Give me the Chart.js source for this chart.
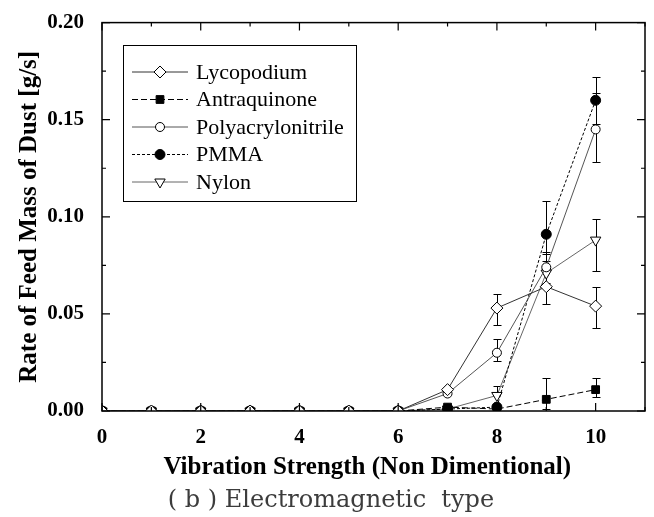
<!DOCTYPE html>
<html>
<head>
<meta charset="utf-8">
<script src="https://cdn.jsdelivr.net/npm/chart.js@4.4.1/dist/chart.umd.min.js"></script>
<style>
  html, body { margin: 0; padding: 0; background: #fff; }
  #wrap { position: relative; width: 654px; height: 517px; }
  #caption {
    position: absolute; left: 0; top: 485px; width: 654px; padding-left: 8px; box-sizing: border-box;
    text-align: center; font: 24px "DejaVu Serif", serif; color: #3c3c3c; white-space: pre;
  }
</style>
</head>
<body>
<div id="wrap">
<canvas id="chart" width="654" height="517"></canvas>
<div id="caption">( b ) Electromagnetic  type</div>
</div>
<script>
// vibration strength (x axis)
var strength = [0, 1, 2, 3, 4, 5, 6, 7, 8, 9, 10];

// feed rate of dust [g/s]
var lycopodium   = [0, 0, 0, 0, 0, 0, 0, 0.011, 0.053, 0.064, 0.054];
var antraquinone = [0, 0, 0, 0, 0, 0, 0, 0.002, 0.001, 0.006, 0.011];
var polyacrylo   = [0, 0, 0, 0, 0, 0, 0, 0.009, 0.030, 0.074, 0.145];
var pmma         = [0, 0, 0, 0, 0, 0, 0, 0.001, 0.002, 0.091, 0.160];
var nylon        = [0, 0, 0, 0, 0, 0, 0, 0.001, 0.008, 0.071, 0.088];

// error bars (up / down)
var lycoUp   = [0, 0, 0, 0, 0, 0, 0, 0, 0.0075, 0.009, 0.0096];
var lycoDown = [0, 0, 0, 0, 0, 0, 0, 0, 0.0085, 0.009, 0.0115];
var antraUp   = [0, 0, 0, 0, 0, 0, 0, 0, 0, 0.011, 0.006];
var antraDown = [0, 0, 0, 0, 0, 0, 0, 0, 0, 0.005, 0.004];
var polyUp   = [0, 0, 0, 0, 0, 0, 0, 0, 0.007, 0.008, 0.019];
var polyDown = [0, 0, 0, 0, 0, 0, 0, 0, 0.004, 0.008, 0.017];
var pmmaUp   = [0, 0, 0, 0, 0, 0, 0, 0, 0, 0.017, 0.012];
var pmmaDown = [0, 0, 0, 0, 0, 0, 0, 0, 0, 0.010, 0.012];
var nylonUp   = [0, 0, 0, 0, 0, 0, 0, 0, 0.005, 0.006, 0.011];
var nylonDown = [0, 0, 0, 0, 0, 0, 0, 0, 0, 0.006, 0.016];

// axis ticks
var xLabels = [0, 2, 4, 6, 8, 10];
var yLabels = [0, 0.05, 0.10, 0.15, 0.20];

var serif = '"Liberation Serif", "Times New Roman", serif';

function points(values) {
    return values.map(function (v, i) { return { x: strength[i], y: v }; });
}

function isMajor(v, step) {
    return Math.abs(v / step - Math.round(v / step)) < 1e-6;
}

// error bars drawn under the markers
var errorBars = {
    id: 'errorBars',
    beforeDatasetsDraw: function (chart) {
        var ctx = chart.ctx, xs = chart.scales.x, ys = chart.scales.y;
        ctx.save();
        ctx.strokeStyle = '#000';
        ctx.lineWidth = 1;
        chart.data.datasets.forEach(function (ds) {
            ds.data.forEach(function (p, i) {
                var up = ds.errUp[i], down = ds.errDown[i];
                if (!up && !down) return;
                var px = Math.round(xs.getPixelForValue(p.x)) + 0.5;
                var top = Math.round(ys.getPixelForValue(p.y + up)) + 0.5;
                var bot = Math.round(ys.getPixelForValue(p.y - down)) + 0.5;
                ctx.beginPath();
                ctx.moveTo(px, top);
                ctx.lineTo(px, bot);
                if (up) { ctx.moveTo(px - 4, top); ctx.lineTo(px + 4, top); }
                if (down) { ctx.moveTo(px - 4, bot); ctx.lineTo(px + 4, bot); }
                ctx.stroke();
            });
        });
        ctx.restore();
    }
};

// box frame with inward ticks on all four sides
var frame = {
    id: 'frame',
    afterDraw: function (chart) {
        var ctx = chart.ctx, a = chart.chartArea, xs = chart.scales.x, ys = chart.scales.y;
        ctx.save();
        ctx.strokeStyle = '#000';
        ctx.lineWidth = 1.5;
        ctx.strokeRect(a.left, a.top, a.right - a.left, a.bottom - a.top);
        ctx.lineWidth = 1.2;
        ctx.beginPath();
        xs.ticks.forEach(function (t) {
            var px = xs.getPixelForValue(t.value);
            var len = isMajor(t.value, 2) ? 8 : 4;
            ctx.moveTo(px, a.bottom); ctx.lineTo(px, a.bottom - len);
            ctx.moveTo(px, a.top); ctx.lineTo(px, a.top + len);
        });
        ys.ticks.forEach(function (t) {
            var py = ys.getPixelForValue(t.value);
            var len = isMajor(t.value, 0.05) ? 8 : 4;
            ctx.moveTo(a.left, py); ctx.lineTo(a.left + len, py);
            ctx.moveTo(a.right, py); ctx.lineTo(a.right - len, py);
        });
        ctx.stroke();
        ctx.restore();
    }
};

// legend box inside the plot, line + marker like the original
var boxLegend = {
    id: 'boxLegend',
    afterDraw: function (chart) {
        var ctx = chart.ctx;
        var left = 123, top = 45, right = 356, bottom = 201;
        ctx.save();
        ctx.fillStyle = '#fff';
        ctx.fillRect(left, top, right - left, bottom - top);
        ctx.strokeStyle = '#000';
        ctx.lineWidth = 1;
        ctx.strokeRect(left + 0.5, top + 0.5, right - left, bottom - top);
        chart.data.datasets.forEach(function (ds, i) {
            var y = 72 + i * 27.5;
            ctx.strokeStyle = ds.borderColor;
            ctx.lineWidth = 1;
            ctx.setLineDash(ds.borderDash || []);
            ctx.beginPath();
            ctx.moveTo(132, y);
            ctx.lineTo(188, y);
            ctx.stroke();
            ctx.setLineDash([]);
            ctx.fillStyle = ds.pointBackgroundColor;
            ctx.strokeStyle = '#000';
            Chart.helpers.drawPoint(ctx, {
                pointStyle: ds.pointStyle,
                rotation: ds.pointRotation || 0,
                radius: ds.pointRadius,
                borderWidth: 1
            }, 160, y);
            ctx.fillStyle = '#000';
            ctx.font = '22px ' + serif;
            ctx.textBaseline = 'middle';
            ctx.fillText(ds.label, 196, y + 1);
        });
        ctx.restore();
    }
};

function series(label, values, up, down, style) {
    var ds = {
        label: label,
        data: points(values),
        errUp: up,
        errDown: down,
        borderColor: '#000',
        borderWidth: 1,
        pointBorderColor: '#000',
        pointBorderWidth: 1,
        pointBackgroundColor: '#fff',
        showLine: true,
        tension: 0
    };
    for (var k in style) ds[k] = style[k];
    return ds;
}

var ctx = document.getElementById('chart').getContext('2d');

var myChart = new Chart(ctx, {
    type: 'scatter',
    data: {
        datasets: [
            series('Lycopodium', lycopodium, lycoUp, lycoDown,
                { borderColor: '#333', pointStyle: 'rectRot', pointRadius: 6 }),
            series('Antraquinone', antraquinone, antraUp, antraDown,
                { borderDash: [6, 3], pointStyle: 'rect', pointRadius: 5.5, pointBackgroundColor: '#000' }),
            series('Polyacrylonitrile', polyacrylo, polyUp, polyDown,
                { borderColor: '#555', pointStyle: 'circle', pointRadius: 4.5 }),
            series('PMMA', pmma, pmmaUp, pmmaDown,
                { borderDash: [3, 2], pointStyle: 'circle', pointRadius: 5, pointBackgroundColor: '#000' }),
            series('Nylon', nylon, nylonUp, nylonDown,
                { borderColor: '#666', pointStyle: 'triangle', pointRotation: 180, pointRadius: 6 })
        ]
    },
    options: {
        responsive: false,
        animation: false,
        devicePixelRatio: 1,
        layout: { padding: { left: 0, top: 21, right: 9, bottom: 34 } },
        plugins: {
            legend: { display: false },
            tooltip: { enabled: false }
        },
        scales: {
            x: {
                type: 'linear',
                min: 0,
                max: 11,
                afterFit: function (s) { s.height = 72; },
                grid: { display: false },
                border: { display: false },
                ticks: {
                    stepSize: 1,
                    autoSkip: false,
                    maxRotation: 0,
                    padding: 6,
                    color: '#000',
                    font: { family: serif, size: 21, weight: 'bold' },
                    callback: function (v) { return xLabels.indexOf(v) >= 0 ? String(v) : ''; }
                },
                title: {
                    display: true,
                    text: 'Vibration Strength (Non Dimentional)\u00a0\u00a0',
                    color: '#000',
                    font: { family: serif, size: 25, weight: 'bold' },
                    padding: { top: 0, bottom: 0 }
                }
            },
            y: {
                min: 0,
                max: 0.2,
                afterFit: function (s) { s.width = 102; },
                grid: { display: false },
                border: { display: false },
                ticks: {
                    stepSize: 0.025,
                    autoSkip: false,
                    padding: 10,
                    color: '#000',
                    font: { family: serif, size: 21, weight: 'bold' },
                    callback: function (v) {
                        for (var i = 0; i < yLabels.length; i++) {
                            if (Math.abs(v - yLabels[i]) < 1e-6) return yLabels[i].toFixed(2);
                        }
                        return '';
                    }
                },
                title: {
                    display: true,
                    text: 'Rate of Feed Mass of Dust [g/s]',
                    color: '#000',
                    font: { family: serif, size: 25, weight: 'bold' },
                    padding: { top: 15, bottom: 0 }
                }
            }
        }
    },
    plugins: [errorBars, frame, boxLegend]
});
</script>
</body>
</html>
